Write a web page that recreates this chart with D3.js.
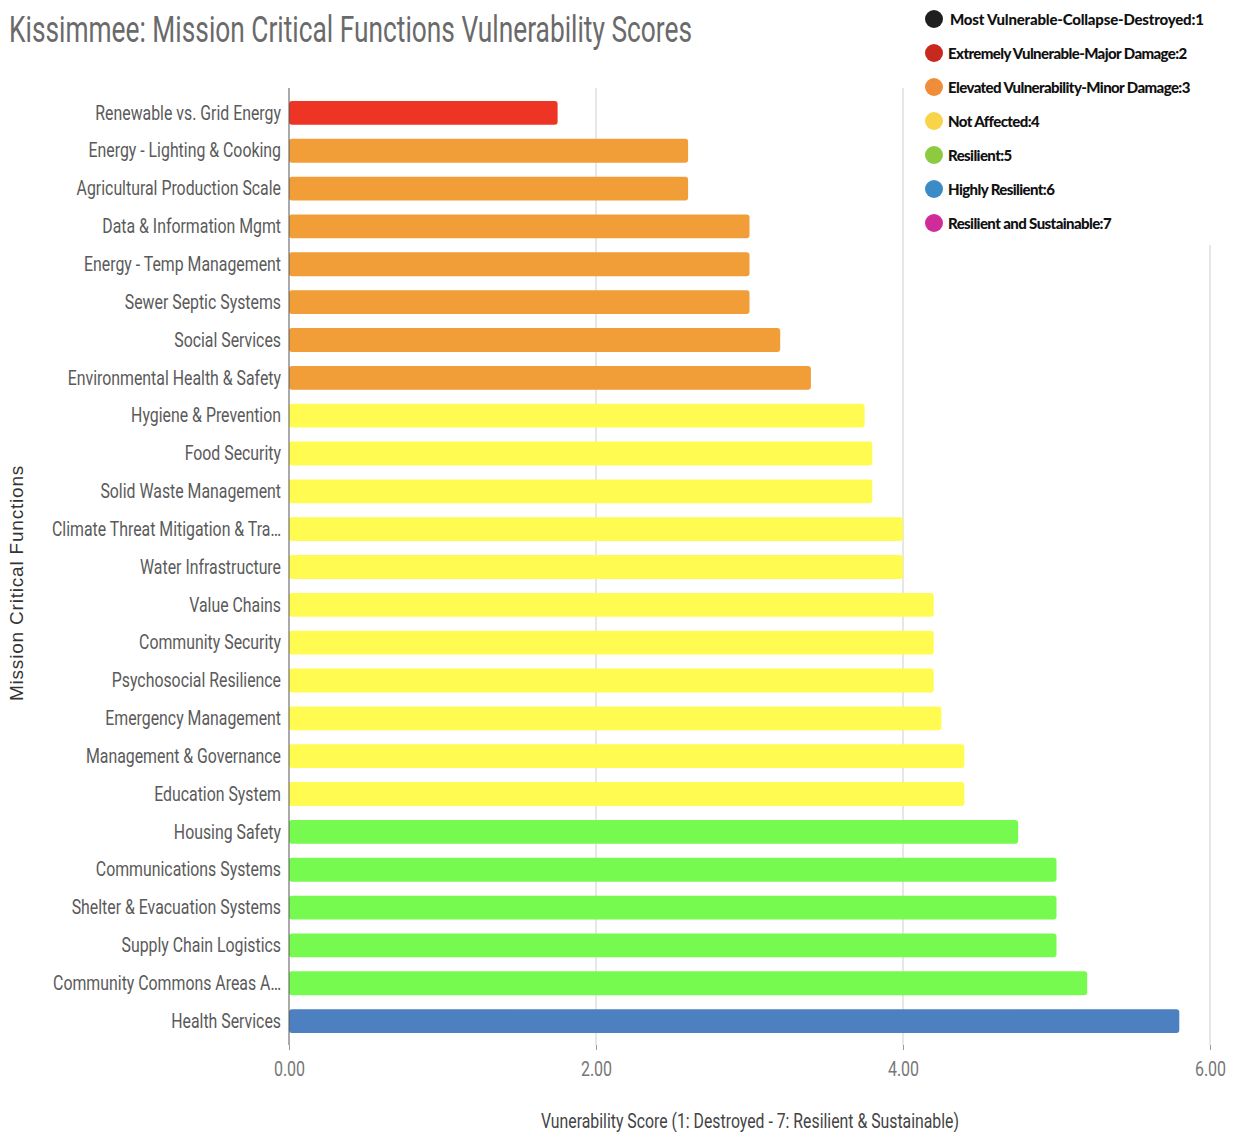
<!DOCTYPE html>
<html><head><meta charset="utf-8">
<script src="https://cdn.jsdelivr.net/npm/d3@7"></script>
<style>
body{margin:0;background:#fff;}
svg{display:block;}
</style></head>
<body>
<svg id="chart" width="1234" height="1132"></svg>
<script>
const categories = ["Renewable vs. Grid Energy","Energy - Lighting & Cooking","Agricultural Production Scale","Data & Information Mgmt","Energy - Temp Management","Sewer Septic Systems","Social Services","Environmental Health & Safety","Hygiene & Prevention","Food Security","Solid Waste Management","Climate Threat Mitigation & Tra…","Water Infrastructure","Value Chains","Community Security","Psychosocial Resilience","Emergency Management","Management & Governance","Education System","Housing Safety","Communications Systems","Shelter & Evacuation Systems","Supply Chain Logistics","Community Commons Areas A…","Health Services"];
const scores = [1.75,2.6,2.6,3.0,3.0,3.0,3.2,3.4,3.75,3.8,3.8,4.0,4.0,4.2,4.2,4.2,4.25,4.4,4.4,4.75,5.0,5.0,5.0,5.2,5.8];
const xTicks = [0,2,4,6];
const legendLabels = ["Most Vulnerable-Collapse-Destroyed:1","Extremely Vulnerable-Major Damage:2","Elevated Vulnerability-Minor Damage:3","Not Affected:4","Resilient:5","Highly Resilient:6","Resilient and Sustainable:7"];
const legendColors = ["#1f1f1f","#c8291f","#ef8d3b","#f7d44a","#8ccb3f","#3b8bc7","#cf2c9a"];
const barColors = {1:"#222222",2:"#ee3424",3:"#f19d38",4:"#fffb50",5:"#77fa4f",6:"#4c80c0",7:"#d02c9a"};

const svg = d3.select("#chart");
const cond = "Roboto,'Liberation Sans',sans-serif";

function condense(k){
  return sel => sel.each(function(){
    const w = this.getComputedTextLength();
    d3.select(this).attr("textLength", w*k).attr("lengthAdjust","spacingAndGlyphs");
  });
}

const x = d3.scaleLinear().domain([0,6]).range([289,1210]);
const y = d3.scaleBand().domain(categories).range([94,1040]).paddingInner(0.37).paddingOuter(0.185);

// title
svg.append("text").attr("x",9).attr("y",42)
  .style("font-family",cond).style("font-size","37px").style("fill","#6a6a6a")
  .text("Kissimmee: Mission Critical Functions Vulnerability Scores")
  .attr("textLength",683).attr("lengthAdjust","spacingAndGlyphs");

// gridlines
svg.append("g").selectAll("line").data(xTicks.filter(d=>d>0)).join("line")
  .attr("x1",d=>x(d)).attr("x2",d=>x(d))
  .attr("y1",d=>d===6?245:88).attr("y2",1045)
  .attr("stroke","#cfcfcf").attr("stroke-width",1);

// bars
svg.append("g").selectAll("rect").data(categories).join("rect")
  .attr("x",x(0)).attr("y",d=>y(d))
  .attr("width",(d,i)=>x(scores[i])-x(0))
  .attr("height",y.bandwidth())
  .attr("rx",3)
  .attr("fill",(d,i)=>barColors[Math.round(scores[i])]);

// y axis
const yAxis = svg.append("g").attr("transform",`translate(${x(0)},0)`)
  .call(d3.axisLeft(y).tickSize(0).tickPadding(8));
yAxis.select(".domain").attr("stroke","#555").attr("d","M0,88V1045");
yAxis.selectAll("text").style("font-family",cond).style("font-size","21px").style("fill","#5a5a5a").call(condense(0.755));

// x axis
const xAxis = svg.append("g").attr("transform","translate(0,1045)")
  .call(d3.axisBottom(x).tickValues(xTicks).tickFormat(d3.format(".2f")).tickSize(5).tickPadding(12));
xAxis.select(".domain").remove();
xAxis.selectAll("line").attr("stroke","#999");
xAxis.selectAll("text").style("font-family",cond).style("font-size","20px").style("fill","#777").call(condense(0.8));

// axis titles
svg.append("text").attr("x",750).attr("y",1128).attr("text-anchor","middle")
  .style("font-family",cond).style("font-size","21px").style("fill","#444")
  .text("Vunerability Score (1: Destroyed - 7: Resilient & Sustainable)")
  .attr("textLength",418).attr("lengthAdjust","spacingAndGlyphs");
svg.append("text").attr("transform","translate(23,583) rotate(-90)").attr("text-anchor","middle")
  .style("font-family","'Liberation Sans',Arial,sans-serif").style("font-size","19px").style("fill","#333")
  .style("letter-spacing","0.8px")
  .text("Mission Critical Functions");

// legend
const lg = svg.append("g");
const item = lg.selectAll("g").data(legendLabels).join("g")
  .attr("transform",(d,i)=>`translate(934,${19+i*34})`);
item.append("circle").attr("r",9).attr("fill",(d,i)=>legendColors[i]);
item.append("text").attr("x",(d,i)=>i===0?16:14).attr("y",5.5)
  .style("font-family","Lato,sans-serif").style("font-weight","900").style("font-size","15px")
  .style("letter-spacing",(d,i)=>i===0?"-0.2px":"-0.6px").style("fill","#111")
  .text(d=>d);
</script>
</body></html>
